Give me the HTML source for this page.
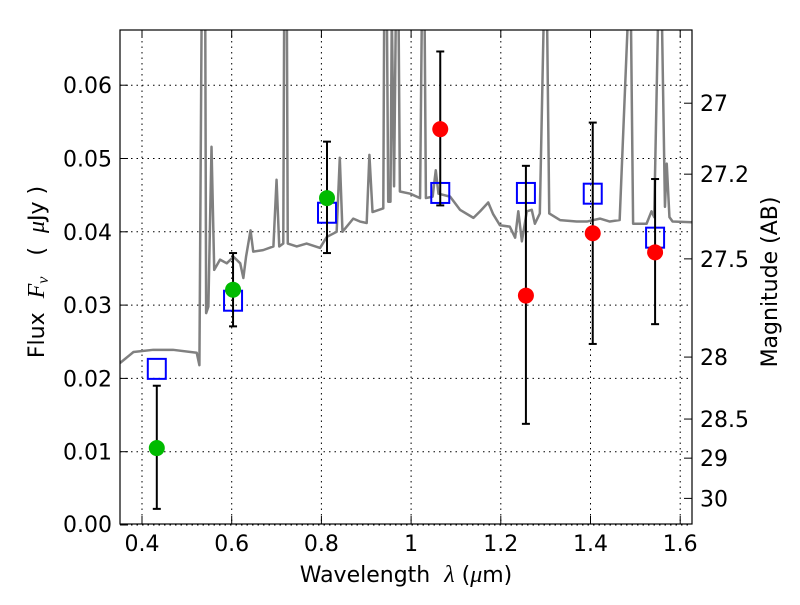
<!DOCTYPE html>
<html><head><meta charset="utf-8"><style>
body{margin:0;background:#fff;}
svg text{font-family:"DejaVu Sans","Liberation Sans",sans-serif;fill:#000;}
</style></head><body>
<svg id="chart" width="800" height="600" viewBox="0 0 800 600" xmlns="http://www.w3.org/2000/svg">
<defs><clipPath id="clip"><rect x="120" y="30" width="572" height="494"/></clipPath></defs>
<rect x="120" y="30" width="572" height="494" fill="#fff"/>
<g id="grid"></g>
<g id="spec" clip-path="url(#clip)"></g>
<g id="marks"></g>
<rect x="120" y="30" width="572" height="494" fill="none" stroke="#000" stroke-width="1.2"/>
<g id="axes"></g>
<text x="406" y="582" font-size="22" text-anchor="middle" xml:space="preserve">Wavelength  <tspan font-style="italic" font-family="Liberation Serif" font-size="24">λ</tspan> (<tspan font-style="italic" font-family="Liberation Serif" font-size="24">μ</tspan>m)</text>
<text transform="translate(44,272) rotate(-90)" font-size="22" text-anchor="middle" xml:space="preserve">Flux  <tspan font-style="italic" font-family="Liberation Serif" font-size="24">F</tspan><tspan font-style="italic" font-family="Liberation Serif" font-size="16" dy="4">ν</tspan><tspan dy="-4">   (  </tspan><tspan font-style="italic" font-family="Liberation Serif" font-size="24">μ</tspan>Jy )</text>
<text transform="translate(777,282) rotate(-90)" font-size="22" text-anchor="middle">Magnitude (AB)</text>
</svg>
<script>
const xTicks=[0.4,0.6,0.8,1.0,1.2,1.4,1.6];
const xTickLabels=["0.4","0.6","0.8","1","1.2","1.4","1.6"];
const yTicks=[0,0.01,0.02,0.03,0.04,0.05,0.06];
const yTickLabels=["0.00","0.01","0.02","0.03","0.04","0.05","0.06"];
const magTicks=[27,27.2,27.5,28,28.5,29,30];
const magTickLabels=["27","27.2","27.5","28","28.5","29","30"];
const specLam=[0.351,0.381,0.425,0.469,0.522,0.528,0.533,0.541,0.543,0.548,0.555,0.561,0.574,0.589,0.604,0.619,0.626,0.632,0.642,0.648,0.670,0.693,0.700,0.706,0.715,0.717,0.723,0.725,0.745,0.767,0.797,0.812,0.834,0.841,0.847,0.871,0.886,0.901,0.907,0.914,0.938,0.940,0.946,0.949,0.954,0.957,0.962,0.966,0.972,0.975,0.998,1.020,1.024,1.030,1.033,1.048,1.055,1.061,1.087,1.109,1.139,1.154,1.172,1.183,1.198,1.220,1.232,1.239,1.247,1.258,1.269,1.276,1.287,1.296,1.303,1.308,1.332,1.369,1.392,1.421,1.443,1.465,1.484,1.490,1.495,1.525,1.536,1.542,1.551,1.559,1.566,1.570,1.576,1.583,1.628];
const specFlux=[0.0221,0.0236,0.0239,0.0239,0.0235,0.0218,0.070,0.070,0.0289,0.0298,0.0516,0.0348,0.0362,0.0357,0.0366,0.0357,0.0337,0.0366,0.0402,0.0373,0.0375,0.0380,0.0471,0.0380,0.0384,0.070,0.070,0.0384,0.0380,0.0384,0.0378,0.0393,0.0400,0.0501,0.0400,0.0418,0.0414,0.0412,0.0505,0.0427,0.0432,0.070,0.070,0.0441,0.0441,0.070,0.0462,0.070,0.070,0.0455,0.0452,0.0446,0.070,0.070,0.0446,0.0448,0.0484,0.0452,0.0448,0.0430,0.0419,0.0428,0.0440,0.0424,0.0409,0.0407,0.0392,0.0428,0.0387,0.0428,0.0430,0.0411,0.0425,0.070,0.070,0.0425,0.0416,0.0414,0.0414,0.0418,0.0414,0.0416,0.070,0.070,0.0411,0.0411,0.0428,0.0420,0.070,0.070,0.0434,0.0493,0.0420,0.0414,0.0413];
const sqLam=[0.433,0.603,0.8125,1.065,1.256,1.405,1.544];
const sqFlux=[0.0213,0.0306,0.0426,0.0453,0.0453,0.0452,0.0392];
const greenLam=[0.433,0.603,0.8125];
const greenFlux=[0.0105,0.0321,0.0446];
const redLam=[1.065,1.256,1.405,1.544];
const redFlux=[0.054,0.0313,0.0398,0.0372];
const errLam=[0.433,0.603,0.8125,1.065,1.256,1.405,1.544];
const errLo=[0.0022,0.0271,0.0371,0.0436,0.0138,0.0247,0.0274];
const errHi=[0.0190,0.0371,0.0523,0.0646,0.0490,0.0549,0.0472];

const X=l=>142+(l-0.4)*448.5;
const Y=f=>525-f*7330;
const magY=m=>Y(Math.pow(10,(23.9-m)/2.5));
const NS="http://www.w3.org/2000/svg";
function mk(tag,parent,attrs){const e=document.createElementNS(NS,tag);for(const k in attrs)e.setAttribute(k,attrs[k]);parent.appendChild(e);return e;}
const grid=document.getElementById('grid'),axes=document.getElementById('axes'),spec=document.getElementById('spec'),marks=document.getElementById('marks');
xTicks.forEach((t,i)=>{const x=X(t);
 const g=mk('line',grid,{x1:x,x2:x,y1:30,y2:524,stroke:'#000','stroke-dasharray':'1.5,4','stroke-width':1});
 
 mk('line',axes,{x1:x,x2:x,y1:524,y2:516,stroke:'#000'});mk('line',axes,{x1:x,x2:x,y1:30,y2:38,stroke:'#000'});
 const tx=mk('text',axes,{x:x,y:551,'font-size':22,'text-anchor':'middle'});tx.textContent=xTickLabels[i];
 });
yTicks.forEach((t,i)=>{const y=Y(t);
 const g=mk('line',grid,{x1:120,x2:692,y1:y,y2:y,stroke:'#000','stroke-dasharray':'1.5,4','stroke-width':1});
 
 mk('line',axes,{x1:120,x2:128,y1:y,y2:y,stroke:'#000'});
 const tx=mk('text',axes,{x:112,y:Math.min(y+8,532),'font-size':22,'text-anchor':'end'});tx.textContent=yTickLabels[i];
 });
magTicks.forEach((m,i)=>{const y=magY(m);
 mk('line',axes,{x1:692,x2:684,y1:y,y2:y,stroke:'#000'});
 const tx=mk('text',axes,{x:700,y:y+8,'font-size':22});tx.textContent=magTickLabels[i];
 });
const p=mk('polyline',spec,{points:specLam.map((l,i)=>X(l)+','+Y(specFlux[i])).join(' '),fill:'none',stroke:'#808080','stroke-width':2.5,'stroke-linejoin':'round'});

sqLam.forEach((l,i)=>{const r=mk('rect',marks,{x:X(l)-9,y:Y(sqFlux[i])-10,width:18,height:20,fill:'none',stroke:'#0000ff','stroke-width':2});
 });
errLam.forEach((l,i)=>{const x=X(l),y1=Y(errLo[i]),y2=Y(errHi[i]);
 const e=mk('g',marks,{});
 mk('line',e,{x1:x,x2:x,y1:y1,y2:y2,stroke:'#000','stroke-width':2});
 mk('line',e,{x1:x-4,x2:x+4,y1:y1,y2:y1,stroke:'#000','stroke-width':2});
 mk('line',e,{x1:x-4,x2:x+4,y1:y2,y2:y2,stroke:'#000','stroke-width':2});});
greenLam.forEach((l,i)=>{const c=mk('circle',marks,{cx:X(l),cy:Y(greenFlux[i]),r:8,fill:'#00bb00'});
 });
redLam.forEach((l,i)=>{const c=mk('circle',marks,{cx:X(l),cy:Y(redFlux[i]),r:8,fill:'#ff0000'});
 });
</script>
</body></html>
